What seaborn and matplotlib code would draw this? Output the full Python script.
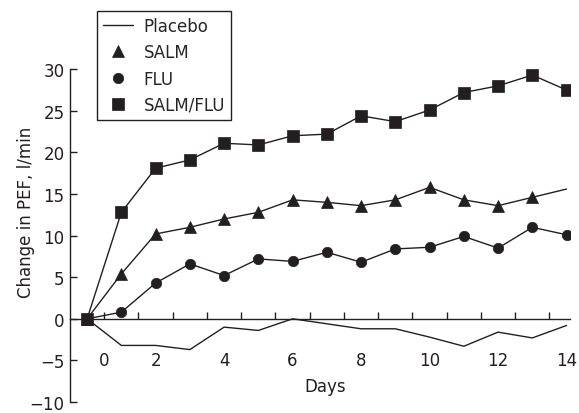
import numpy as np
import pandas as pd
import matplotlib
matplotlib.use('Agg')
import matplotlib.pyplot as plt
import seaborn as sns

# data; first point is baseline
DAYS = list(range(15))
PLACEBO = [0, -3.2, -3.2, -3.7, -1.0, -1.4, 0.0, -0.6, -1.2, -1.2, -2.2, -3.3, -1.6, -2.3, -0.8]
SALM = [0, 5.4, 10.2, 11.0, 12.0, 12.8, 14.3, 14.0, 13.6, 14.3, 15.8, 14.3, 13.6, 14.6, 15.6]
FLU = [0, 0.8, 4.3, 6.6, 5.2, 7.2, 6.9, 8.0, 6.8, 8.4, 8.6, 9.9, 8.5, 11.0, 10.1]
SALM_FLU = [0, 12.8, 18.1, 19.1, 21.1, 20.9, 22.0, 22.2, 24.4, 23.7, 25.1, 27.2, 28.0, 29.3, 27.5]

XTICK_POS = [0.5, 2, 4, 6, 8, 10, 12, 14]
XTICK_LABELS = ['0', '2', '4', '6', '8', '10', '12', '14']
YTICKS = [-10, -5, 0, 5, 10, 15, 20, 25, 30]

INK = '#231f20'
FS = 12

sns.set_style('ticks')
plt.rcParams['font.family'] = ['DejaVu Sans']
plt.rcParams['font.size'] = FS

fig = plt.figure(figsize=(5.79, 4.14), dpi=100)
ax = fig.add_axes([70 / 579, 11 / 414, 500 / 579, 396 / 414])

sns.lineplot(x=DAYS, y=PLACEBO, ax=ax, color=INK, lw=1, label='Placebo')
sns.lineplot(x=DAYS, y=SALM, ax=ax, color=INK, lw=1, marker='^', markersize=9,
             markeredgecolor=INK, markeredgewidth=0.5, markevery=list(range(14)),
             label='SALM')
sns.lineplot(x=DAYS, y=FLU, ax=ax, color=INK, lw=1, marker='o', markersize=7.5,
             markeredgecolor=INK, markeredgewidth=0.5, label='FLU')
sns.lineplot(x=DAYS, y=SALM_FLU, ax=ax, color=INK, lw=1, marker='s', markersize=8.5,
             markeredgecolor=INK, markeredgewidth=0.5, label='SALM/FLU')

ax.set_xlim(-0.5, 14.1)
ax.set_ylim(-10, 37.6)

# spines
for s in ['top', 'right']:
    ax.spines[s].set_visible(False)
ax.spines['bottom'].set_position(('data', 0))
ax.spines['left'].set_bounds(-10, 30)
for s in ['bottom', 'left']:
    ax.spines[s].set_color(INK)
    ax.spines[s].set_linewidth(1)

# x ticks: marks between days, labels below
ax.xaxis.remove_overlapping_locs = False
ax.set_xticks(np.arange(0.5, 14, 1))
ax.set_xticklabels([])
ax.set_xticks(XTICK_POS, minor=True)
ax.set_xticklabels(XTICK_LABELS, minor=True)
ax.tick_params(axis='x', which='major', direction='in', length=5, width=1, color=INK)
ax.tick_params(axis='x', which='minor', length=0, pad=23, labelsize=FS, labelcolor=INK)

ax.set_yticks(YTICKS)
ax.tick_params(axis='y', direction='in', length=5, width=1, color=INK, labelsize=FS,
               labelcolor=INK, pad=4)

ax.set_xlabel('Days', fontsize=FS, color=INK)
ax.xaxis.set_label_coords(0.51, 0.064)
ax.set_ylabel('Change in PEF, l/min', fontsize=FS, color=INK)
ax.yaxis.set_label_coords(-0.07, 0.482)

leg = ax.legend(loc='upper left', bbox_to_anchor=(97 / 579, 1 - 12 / 414),
                bbox_transform=fig.transFigure, borderaxespad=0, fancybox=False,
                framealpha=1, edgecolor=INK, handlelength=1.8, labelspacing=0.5,
                handletextpad=0.65, borderpad=0.35, fontsize=FS)
leg.get_frame().set_linewidth(1)
# marker-only handles for the treatment groups
for h in leg.legend_handles[1:]:
    h.set_linestyle('None')

fig.savefig('out.png', dpi=100)
